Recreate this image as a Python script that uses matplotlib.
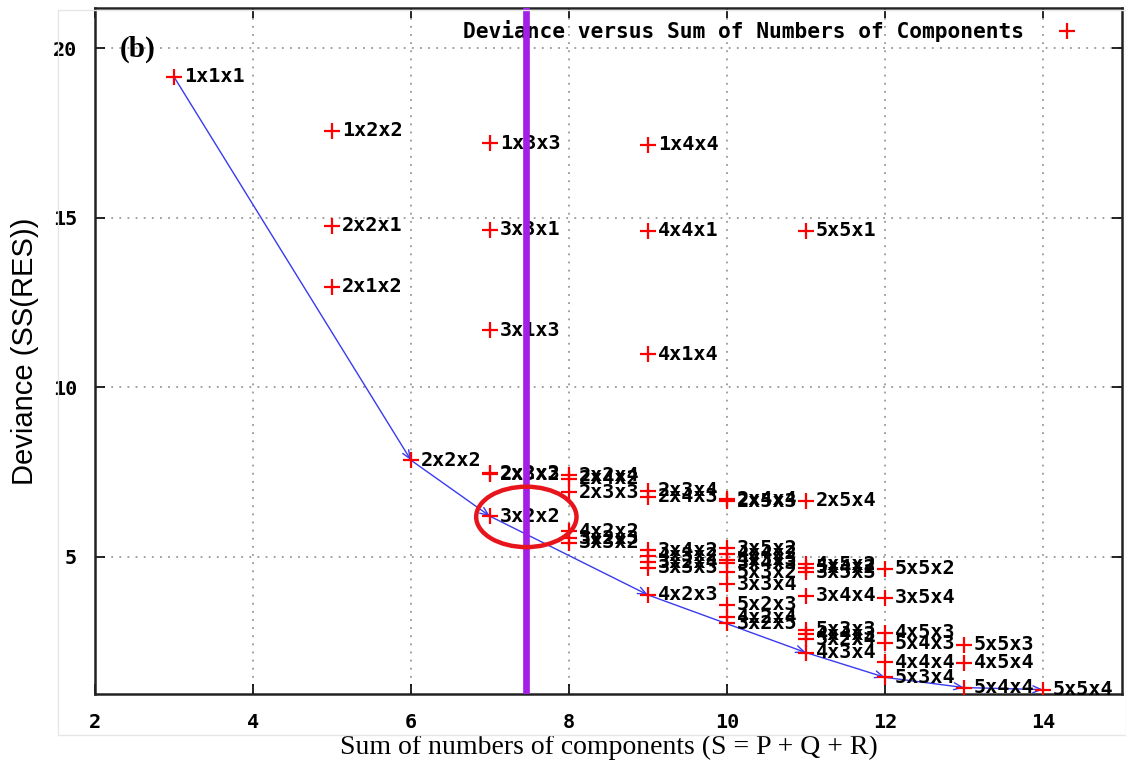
import matplotlib
matplotlib.use("Agg")
import matplotlib.pyplot as plt
from matplotlib.patches import Ellipse, Rectangle

# ---- data ----
labels = ["1x1x1", "1x2x2", "2x2x1", "2x1x2", "1x3x3", "3x3x1", "3x1x3",
          "2x2x3", "2x3x2", "3x2x2", "1x4x4", "4x4x1", "4x1x4", "2x2x2",
          "2x2x4", "2x4x2", "2x3x3", "4x2x2", "3x2x3", "3x3x2",
          "2x3x4", "2x4x3", "3x4x2", "4x3x2", "3x2x4", "3x3x3", "4x2x3",
          "2x4x4", "2x5x3", "3x5x2", "4x4x2", "4x3x3", "3x4x3", "5x3x2",
          "3x3x4", "5x2x3", "4x2x4", "3x2x5",
          "5x5x1", "2x5x4", "4x5x2", "5x4x2", "3x5x3", "3x4x4", "5x3x3",
          "4x4x3", "5x2x4", "4x3x4",
          "5x5x2", "3x5x4", "4x5x3", "5x4x3", "4x4x4", "5x3x4",
          "5x5x3", "4x5x4", "5x4x4", "5x5x4"]
sum_s = [3, 5, 5, 5, 7, 7, 7,
         7, 7, 7, 9, 9, 9, 6,
         8, 8, 8, 8, 8, 8,
         9, 9, 9, 9, 9, 9, 9,
         10, 10, 10, 10, 10, 10, 10,
         10, 10, 10, 10,
         11, 11, 11, 11, 11, 11, 11,
         11, 11, 11,
         12, 12, 12, 12, 12, 12,
         13, 13, 13, 14]
deviance = [19.15, 17.56, 14.76, 12.97, 17.20, 14.65, 11.68,
            7.47, 7.43, 6.20, 17.15, 14.62, 10.97, 7.85,
            7.41, 7.30, 6.90, 5.75, 5.55, 5.42,
            6.95, 6.78, 5.20, 5.03, 4.85, 4.68, 3.88,
            6.70, 6.64, 5.26, 5.10, 4.92, 4.82, 4.55,
            4.20, 3.59, 3.22, 3.05,
            14.62, 6.65, 4.78, 4.68, 4.55, 3.85, 2.85,
            2.72, 2.58, 2.18,
            4.65, 3.80, 2.76, 2.46, 1.90, 1.45,
            2.41, 1.88, 1.15, 1.09]
path_labels = ["1x1x1", "2x2x2", "3x2x2", "4x2x3", "4x3x4", "5x3x4", "5x4x4", "5x5x4"]
cut_s = 7.46
legend_text = "Deviance versus Sum of Numbers of Components"
x_ticks = [2, 4, 6, 8, 10, 12, 14]
y_ticks = [5, 10, 15, 20]

# ---- figure ----
fig = plt.figure(figsize=(11.26, 7.67), dpi=100)
fig.patches.append(Rectangle((58 / 1126, 1 - 735 / 767), (1126 - 58) / 1126, (735 - 10) / 767,
                             transform=fig.transFigure, fill=False, edgecolor="#e6e6e6", lw=1))
ax = fig.add_axes([95 / 1126, 1 - 694 / 767, (1122 - 95) / 1126, (694 - 8) / 767])
ax.set_xlim(2, 15)
ax.set_ylim(0.96, 21.18)

mono = {"family": "DejaVu Sans Mono", "weight": "bold", "size": 14.5}
mono_leg = {"family": "DejaVu Sans Mono", "weight": "bold", "size": 15.3}

ax.set_xticks(x_ticks)
ax.set_yticks(y_ticks)
ax.set_xticklabels([str(t) for t in x_ticks], **mono)
ax.set_yticklabels([str(t) for t in y_ticks], **mono)
ax.tick_params(direction="in", top=True, right=True, length=7, width=1.2, pad=14)
ax.tick_params(axis="y", pad=13)
ax.grid(True, color="#999999", linestyle=(0, (1, 3.5)), linewidth=1.3)
for sp in ax.spines.values():
    sp.set_linewidth(1.8)
    sp.set_color("#222222")

# path with arrows
lookup = {l: (s, d) for l, s, d in zip(labels, sum_s, deviance)}
for a, b in zip(path_labels[:-1], path_labels[1:]):
    ax.annotate("", xy=lookup[b], xytext=lookup[a],
                arrowprops=dict(arrowstyle="->,head_length=0.6,head_width=0.25",
                                color="#3a3af0", lw=1.0, shrinkA=0, shrinkB=0))

# points and labels
ax.plot(sum_s, deviance, linestyle="none", marker="+", markersize=11,
        markeredgewidth=1.6, color="red", zorder=4)
for l, s, d in zip(labels, sum_s, deviance):
    ax.annotate(l, (s, d), xytext=(7, 0), textcoords="offset points",
                va="center", ha="left", zorder=5, **mono)

# vertical cut line and ellipse
ax.axvline(cut_s, color="#a31ee6", lw=4.8, zorder=6)
ax.add_patch(Ellipse((lookup["3x2x2"][0] + 0.46, lookup["3x2x2"][1] - 0.02), 1.27, 1.78,
                     fill=False, edgecolor="#e8141c", lw=3.2, zorder=7))

# legend
ax.text(0.905, 0.967, legend_text, transform=ax.transAxes, ha="right", va="center", **mono_leg)
ax.plot([0.9465], [0.967], transform=ax.transAxes, marker="+", markersize=11,
        markeredgewidth=1.6, color="red", linestyle="none", clip_on=False)

# panel label
ax.text(0.024, 0.94, "(b)", transform=ax.transAxes, family="Liberation Serif",
        weight="bold", size=21, ha="left", va="center")

ax.set_xlabel("Sum of numbers of components (S = P + Q + R)", family="Liberation Serif",
              size=20, labelpad=2)
ax.set_ylabel("Deviance (SS(RES))", family="Liberation Sans", size=21, labelpad=10)

fig.savefig("out.png", dpi=100)
